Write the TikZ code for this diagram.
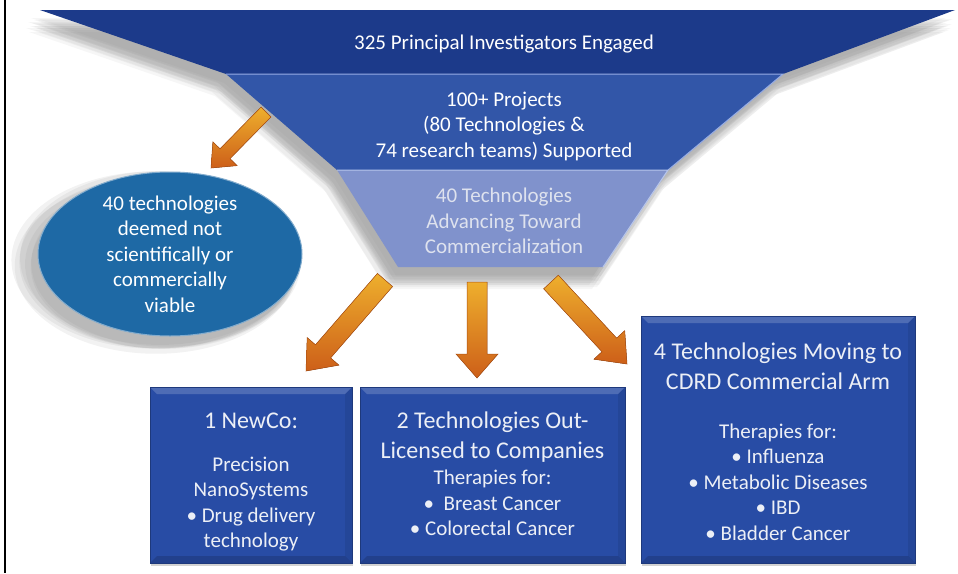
\documentclass[tikz,border=0pt]{standalone}
\usepackage{fontspec}
\setmainfont{Carlito}
\usetikzlibrary{calc,shadows,shapes.geometric}
\definecolor{topblue}{RGB}{28,58,138}
\definecolor{midblue}{RGB}{50,86,168}
\definecolor{lowblue}{RGB}{128,146,204}
\definecolor{edgeblue}{RGB}{150,172,228}
\definecolor{boxblue}{RGB}{40,76,165}
\definecolor{ellblue}{RGB}{30,105,165}
\definecolor{arrgold}{RGB}{238,175,45}
\definecolor{arrorange}{RGB}{205,95,25}
\definecolor{pale}{RGB}{236,239,246}
\definecolor{palegray}{RGB}{222,226,238}
\newcommand\blockarrow[5]{%
  \coordinate (hb) at ($(#2)!#5!(#1)$);
  \fill[arrowbody] ($(#1)!#3!90:(#2)$) -- ($(hb)!#3!-90:(#1)$) -- ($(hb)!#4!-90:(#1)$)
    -- (#2) -- ($(hb)!#4!90:(#1)$) -- ($(hb)!#3!90:(#1)$) -- ($(#1)!#3!-90:(#2)$) -- cycle;
}
\begin{document}
\begin{tikzpicture}[x=1pt,y=-1pt,
  txt/.style={text=pale, align=center, inner sep=0pt},
  body/.style={txt, font=\fontsize{21}{25.5}\selectfont},
  head/.style={txt, font=\fontsize{24}{29.5}\selectfont},
  boxnode/.style={fill=boxblue, draw=boxblue!75!black, line width=0.6pt, inner sep=0pt,
    drop shadow={shadow xshift=1pt, shadow yshift=-3pt, opacity=0.35, fill=gray},
    path picture={
      \fill[white,opacity=0.18] (path picture bounding box.north west) -- (path picture bounding box.north east)
        -- ($(path picture bounding box.north east)+(-7pt,-7pt)$) -- ($(path picture bounding box.north west)+(7pt,-7pt)$) -- cycle;
      \fill[black,opacity=0.15] (path picture bounding box.south west) -- (path picture bounding box.south east)
        -- ($(path picture bounding box.south east)+(-7pt,7pt)$) -- ($(path picture bounding box.south west)+(7pt,7pt)$) -- cycle;
      \fill[black,opacity=0.08] (path picture bounding box.north east) -- (path picture bounding box.south east)
        -- ($(path picture bounding box.south east)+(-7pt,7pt)$) -- ($(path picture bounding box.north east)+(-7pt,-7pt)$) -- cycle;
    }},
  arrowbody/.style={top color=arrgold, bottom color=arrorange, draw=arrorange!85!black, line width=0.5pt}
]
\useasboundingbox (0,0) rectangle (958,573);
\fill[white] (0,0) rectangle (958,573);
\draw[line width=2pt] (5,0) -- (5,573);

% funnel shadow (soft)
\foreach \dx/\dy in {-10/16,-8/13,-6/10,-4/18,-12/12,-6/20,-9/8,-3/14,-14/18,-11/22,-2/9,-7/16}{
  \fill[gray, opacity=0.07, shift={(\dx,\dy)}] (40,10) -- (955,10) -- (783,74) -- (668,170) -- (603,267) -- (398,267) -- (337,170) -- (226,74) -- cycle;
}
% funnel bands
\fill[topblue] (40,10) -- (955,10) -- (783,74) -- (226,74) -- cycle;
\fill[midblue] (226,74) -- (783,74) -- (668,170) -- (337,170) -- cycle;
\fill[lowblue] (337,170) -- (668,170) -- (603,267) -- (398,267) -- cycle;
\draw[edgeblue, line width=1pt] (226,74) -- (783,74) -- (668,170);
\draw[edgeblue!70!white, line width=1pt] (337,170) -- (668,170) -- (603,267);

\node[txt, text=white, font=\fontsize{21}{25}\selectfont] (t325) at (504,44) {325 Principal Investigators Engaged};
\node[body, text=white] (t100) at (504,126) {100+ Projects\\(80 Technologies \&\\74 research teams) Supported};
\node[body, text=palegray] (t40) at (504,221) {40 Technologies\\Advancing Toward\\Commercialization};

% ellipse with soft shadow
\foreach \dx/\dy/\s in {-12/8/1.05,-9/10/1.03,-16/6/1.08,-6/12/1.01,-10/4/1.06,-14/12/1.07,-4/9/1.02}{
  \fill[gray, opacity=0.1] (170+\dx,254+\dy) ellipse [x radius={132*\s}, y radius={82*\s}];
}
\node[ellipse, minimum width=264pt, minimum height=164pt, fill=ellblue, draw=ellblue!55!white, line width=1pt] (ell) at (170,254) {};
\node[body, text=white] (ellt) at (ell.center) {40 technologies\\deemed not\\scientifically or\\commercially\\viable};

% boxes
\node[boxnode, minimum width=202pt, minimum height=176pt] (b1) at (251,475) {};
\node[boxnode, minimum width=265pt, minimum height=176pt] (b2) at (492.5,475) {};
\node[boxnode, minimum width=274pt, minimum height=247pt] (b3) at (778,439.5) {};

\node[head] (b1h) at (251,421) {1 NewCo:};
\node[body] (b1b) at (251,504) {Precision\\NanoSystems\\• Drug delivery\\technology};
\node[head] (b2h) at (492.5,437) {2 Technologies Out-\\Licensed to Companies};
\node[body] (b2b) at (492.5,503) {Therapies for:\\•\ \ Breast Cancer\\• Colorectal Cancer};
\node[head] (b3h) at (778,366) {4 Technologies Moving to\\CDRD Commercial Arm};
\node[body] (b3b) at (778,482) {Therapies for:\\• Influenza\\• Metabolic Diseases\\• IBD\\• Bladder Cancer};

% arrows
\coordinate (a1s) at (266,112); \coordinate (a1e) at (211,168);
\coordinate (a2s) at (385,280); \coordinate (a2e) at (306,371);
\coordinate (a3s) at (477,282); \coordinate (a3e) at (477,378);
\coordinate (a4s) at (551,282); \coordinate (a4e) at (627,364);
\blockarrow{a1s}{a1e}{7pt}{17pt}{20pt}
\blockarrow{a2s}{a2e}{10pt}{21pt}{26pt}
\blockarrow{a3s}{a3e}{10pt}{21pt}{24pt}
\blockarrow{a4s}{a4e}{10pt}{21pt}{26pt}
\end{tikzpicture}
\end{document}
